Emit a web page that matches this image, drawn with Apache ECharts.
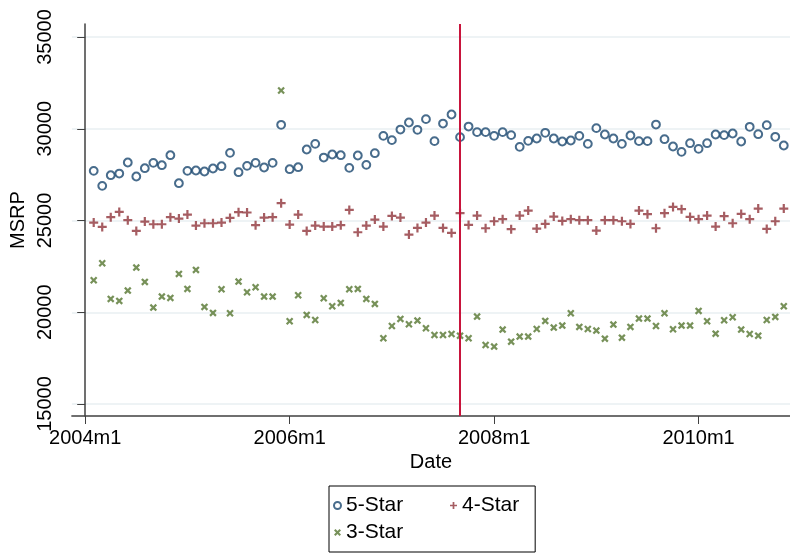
<!DOCTYPE html>
<html>
<head>
<meta charset="utf-8">
<script src="https://cdn.jsdelivr.net/npm/echarts@6/dist/echarts.min.js"></script>
<style>
html,body{margin:0;padding:0;background:#fff;}
#chart{width:790px;height:556px;}
</style>
</head>
<body>
<div id="chart"></div>
<script>
// months counted from 2004m1 = 0, data start at 2004m2
var firstMonth = 1;
var eventMonth = 44; // 2007m9
var xTickMonths = [0, 24, 48, 72];
var xTickLabels = ['2004m1', '2006m1', '2008m1', '2010m1'];
var yTicks = [15000, 20000, 25000, 30000, 35000];

var star5 = [27705,26888,27470,27560,28160,27397,27850,28142,28015,28560,
	27033,27705,27724,27670,27833,27960,28687,27633,27978,28142,
	27888,28142,30214,27797,27906,28869,29178,28432,28596,28560,
	27869,28542,28033,28670,29614,29379,29958,30340,29941,30524,
	29325,30285,30776,29543,30121,29816,29816,29614,29816,29652,
	29014,29341,29469,29778,29469,29305,29360,29614,29178,30034,
	29687,29469,29178,29632,29325,29325,30230,29433,29033,28742,
	29215,28905,29215,29687,29652,29742,29305,30105,29705,30197,
	29560,29087];
var star4 = [24887,24652,25180,25470,25016,24433,24942,24797,24797,25180,
	25106,25324,24724,24851,24851,24887,25143,25453,25435,24745,
	25160,25180,25944,24778,25324,24433,24724,24669,24669,24745,
	25579,24361,24724,25052,24669,25252,25160,24234,24597,24887,
	25270,24597,24325,25398,24760,25270,24579,24960,25070,24526,
	25270,25543,24560,24815,25215,24979,25070,25016,25016,24452,
	25016,25016,24960,24815,25543,25344,24579,25398,25742,25617,
	25197,25070,25270,24669,25235,24851,25361,25070,25650,24543,
	24960,25650];
var star3 = [21745,22672,20726,20617,21180,22433,21653,20253,20853,20780,
	22089,21271,22307,20289,19962,21253,19944,21671,21090,21362,
	20853,20853,32085,19508,20926,19853,19580,20763,20326,20508,
	21253,21271,20726,20453,18583,19253,19635,19344,19544,19126,
	18763,18763,18817,18726,18583,19763,18217,18127,19054,18399,
	18672,18672,19090,19526,19163,19272,19944,19199,19090,18999,
	18561,19326,18615,19199,19653,19653,19253,19944,19072,19272,
	19272,20071,19508,18835,19562,19726,19054,18817,18726,19580,
	19744,20326];

var FONT = '"Liberation Sans", Arial, sans-serif';
var plusPath = 'path://M3.4,0H5.6V3.4H9V5.6H5.6V9H3.4V5.6H0V3.4H3.4Z';
var xPath = 'path://M0,2.1L2.1,0L5,2.9L7.9,0L10,2.1L7.1,5L10,7.9L7.9,10L5,7.1L2.1,10L0,7.9L2.9,5Z';

function toPairs(arr){
	var out = [];
	for (var i = 0; i < arr.length; i++) {
		out.push([firstMonth + i, arr[i]]);
	}
	return out;
}

var gridLines = [];
for (var i = 0; i < yTicks.length; i++) {
	gridLines.push({yAxis: yTicks[i]});
}

var myChart = echarts.init(document.getElementById('chart'), null, {renderer: 'canvas'});
var option = {
	animation: false,
	backgroundColor: '#fff',
	textStyle: {fontFamily: FONT},
	grid: {left: 71, top: 24, right: 0, bottom: 140, containLabel: false},
	xAxis: {
		type: 'value',
		min: -1.56,
		max: 82.73,
		name: 'Date',
		nameLocation: 'middle',
		nameGap: 34,
		nameTextStyle: {fontSize: 20, color: '#000', fontFamily: FONT},
		axisLine: {show: true, lineStyle: {color: '#404040', width: 1.5}},
		axisTick: {show: true, length: 8, lineStyle: {color: '#404040', width: 1}, customValues: xTickMonths},
		axisLabel: {
			fontSize: 20, color: '#000', margin: 12, fontFamily: FONT,
			customValues: xTickMonths,
			formatter: function(v){
				var k = xTickMonths.indexOf(v);
				return k >= 0 ? xTickLabels[k] : '';
			}
		},
		splitLine: {show: false}
	},
	yAxis: {
		type: 'value',
		min: 14346,
		max: 35709,
		name: 'MSRP',
		nameLocation: 'middle',
		nameGap: 38,
		nameTextStyle: {fontSize: 20, color: '#000', fontFamily: FONT},
		axisLine: {show: true, lineStyle: {color: '#404040', width: 1.5}},
		axisTick: {show: true, length: 8, lineStyle: {color: '#404040', width: 1}, customValues: yTicks},
		axisLabel: {
			fontSize: 20, color: '#000', margin: 16, rotate: 90, customValues: yTicks, fontFamily: FONT,
			formatter: function(v){ return String(v); }
		},
		splitLine: {show: false}
	},
	legend: {
		left: 329,
		top: 486,
		width: 200,
		orient: 'horizontal',
		padding: [9, 16, 9, 4],
		itemGap: 6,
		itemWidth: 7,
		itemHeight: 7,
		borderColor: '#000',
		borderWidth: 1,
		borderRadius: 0,
		data: ['5-Star', '4-Star', '3-Star'],
		textStyle: {
			fontSize: 21, color: '#000', fontFamily: FONT, lineHeight: 21,
			rich: {
				wide: {fontSize: 21, width: 98, lineHeight: 21, fontFamily: FONT},
				nat: {fontSize: 21, lineHeight: 21, fontFamily: FONT}
			}
		},
		formatter: function(name){
			return name === '5-Star' ? '{wide|' + name + '}' : '{nat|' + name + '}';
		}
	},
	series: [
		{
			name: 'grid',
			type: 'scatter',
			data: [],
			z: 0,
			silent: true,
			markLine: {
				silent: true,
				z: 0,
				symbol: 'none',
				label: {show: false},
				lineStyle: {color: '#e8eff2', width: 1.5, type: 'solid'},
				data: gridLines
			}
		},
		{
			name: '5-Star',
			type: 'scatter',
			data: toPairs(star5),
			symbol: 'emptyCircle',
			symbolSize: 7.8,
			z: 3,
			itemStyle: {color: '#1a476f', borderColor: '#1a476f', borderWidth: 2}
		},
		{
			name: '4-Star',
			type: 'scatter',
			data: toPairs(star4),
			symbol: plusPath,
			symbolSize: 9,
			z: 3,
			itemStyle: {color: '#90353b'}
		},
		{
			name: '3-Star',
			type: 'scatter',
			data: toPairs(star3),
			symbol: xPath,
			symbolSize: 7.5,
			z: 3,
			itemStyle: {color: '#55752f'}
		},
		{
			name: 'event',
			type: 'scatter',
			data: [],
			z: 5,
			silent: true,
			markLine: {
				silent: true,
				z: 10,
				symbol: 'none',
				label: {show: false},
				lineStyle: {color: '#c8143c', width: 2, type: 'solid'},
				data: [{xAxis: eventMonth}]
			}
		}
	]
};
myChart.setOption(option);
</script>
</body>
</html>
